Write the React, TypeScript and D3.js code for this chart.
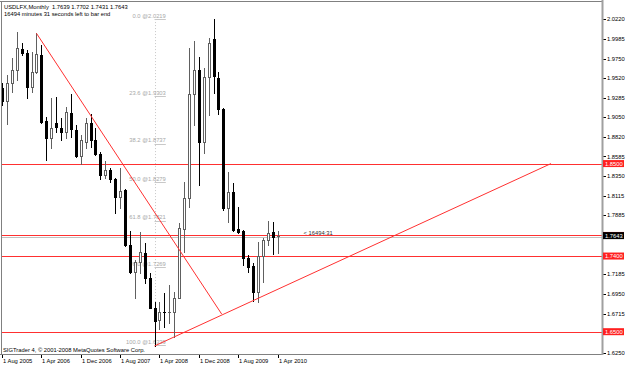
import React from 'react';
import * as d3 from 'd3';

const W = 625;
const H = 365;

const opens = [1.9395, 1.9245, 1.9455, 1.9614, 1.9863, 1.9812, 1.9415, 1.9594, 1.9792, 1.9011, 1.8808, 1.8979, 1.8927, 1.8872, 1.9098, 1.8900, 1.8594, 1.8761, 1.8979, 1.8781, 1.8610, 1.8364, 1.8424, 1.8317, 1.8107, 1.8186, 1.7531, 1.7206, 1.7333, 1.7432, 1.7135, 1.6786, 1.6639, 1.6738, 1.6730, 1.6730, 1.6905, 1.7722, 1.8095, 1.9324, 1.9614, 1.8761, 1.9534, 1.9982, 1.9522, 1.9150, 1.7968, 1.8158, 1.7722, 1.7698, 1.7381, 1.7286, 1.6968, 1.7405, 1.7591, 1.7682, 1.7639];
const highs = [1.9455, 1.9554, 1.9752, 2.0070, 1.9931, 1.9852, 1.9832, 2.0050, 1.9911, 1.9058, 1.9276, 1.9296, 1.9039, 1.9177, 1.9324, 1.8959, 1.8840, 1.9039, 1.9086, 1.8920, 1.8642, 1.8531, 1.8452, 1.8325, 1.8444, 1.8198, 1.7698, 1.7353, 1.7690, 1.7551, 1.7194, 1.6857, 1.6857, 1.6956, 1.7056, 1.6976, 1.7789, 1.8285, 1.9871, 1.9959, 1.9772, 1.9633, 1.9990, 2.0220, 1.9594, 1.9158, 1.8396, 1.8265, 1.7988, 1.7710, 1.7413, 1.7313, 1.7571, 1.7611, 1.7817, 1.7801, 1.7702];
const lows = [1.9197, 1.8967, 1.9356, 1.9495, 1.9792, 1.9284, 1.9356, 1.9574, 1.8979, 1.8543, 1.8682, 1.8880, 1.8781, 1.8801, 1.8820, 1.8582, 1.8491, 1.8690, 1.8701, 1.8602, 1.8317, 1.8325, 1.8277, 1.7908, 1.7968, 1.7524, 1.7194, 1.6897, 1.7194, 1.7075, 1.6778, 1.6330, 1.6532, 1.6560, 1.6599, 1.6441, 1.6897, 1.7452, 1.7988, 1.8959, 1.8245, 1.8622, 1.9078, 1.9336, 1.9086, 1.7948, 1.7809, 1.7698, 1.7670, 1.7293, 1.7214, 1.6860, 1.6849, 1.7095, 1.7531, 1.7420, 1.7431];
const closes = [1.9245, 1.9455, 1.9614, 1.9871, 1.9812, 1.9415, 1.9594, 1.9800, 1.8999, 1.8808, 1.8920, 1.8939, 1.8872, 1.9110, 1.8912, 1.8594, 1.8781, 1.8979, 1.8781, 1.8614, 1.8364, 1.8424, 1.8317, 1.8107, 1.8174, 1.7531, 1.7206, 1.7333, 1.7444, 1.7135, 1.6786, 1.6627, 1.6730, 1.6730, 1.6738, 1.6905, 1.7730, 1.8095, 1.9324, 1.9614, 1.8761, 1.9534, 1.9931, 1.9546, 1.9150, 1.7968, 1.8158, 1.7710, 1.7690, 1.7381, 1.7274, 1.6968, 1.7405, 1.7591, 1.7670, 1.7631, 1.7643];

const dateLabels = ['1 Aug 2005', '1 Apr 2006', '1 Dec 2006', '1 Aug 2007', '1 Apr 2008', '1 Dec 2008', '1 Aug 2009', '1 Apr 2010'];
const dateBars = [0, 8, 16, 24, 32, 40, 48, 56];
const priceTicks = [2.0220, 1.9985, 1.9750, 1.9520, 1.9285, 1.9050, 1.8820, 1.8585, 1.8350, 1.8115, 1.7885, 1.7185, 1.6950, 1.6715, 1.6250];
const redLevels = [1.8500, 1.7645, 1.7400, 1.6500];
const bidPrice = 1.7643;
const fibLevels = ['0.0', '23.6', '38.2', '50.0', '61.8', '76.0', '100.0'];
const fibPrices = [2.0219, 1.9303, 1.8737, 1.8279, 1.7821, 1.7269, 1.6339];
const fibBars = [31, 33.3];
const downTrend = [{ bar: 7, price: 2.0050 }, { bar: 44.65, price: 1.6710 }];
const upTrend = [{ bar: 31, price: 1.6330 }, { bar: 111.6, price: 1.8500 }];

const symbolText = 'USDLFX,Monthly';
const ohlcText = '1.7639 1.7702 1.7431 1.7643';
const timerText = '16494 minutes 31 seconds left to bar end';
const timerShort = '<  16494:31';
const copyright = 'SIGTrader 4, \u00a9 2001-2008 MetaQuotes Software Corp.';

const FONT = 'Liberation Sans, Arial, sans-serif';
const FS = 5.8;

export default function App() {
  const plotL = 1.5, plotR = 602, plotT = 1, plotB = 354;
  const x = d3.scaleLinear().domain([0, 56]).range([2, 277.5]);
  const y = d3.scaleLinear().domain([1.6250, 2.0220]).range([352.7, 19]);
  const fmt = d3.format('.4f');

  const candles = opens.map((o, i) => {
    const c = closes[i];
    const cx = Math.round(x(i));
    const bull = c >= o;
    const top = Math.round(y(Math.max(o, c)));
    const bot = Math.round(y(Math.min(o, c)));
    const hy = Math.round(y(highs[i]));
    const ly = Math.round(y(lows[i]));
    const col = bull ? '#606060' : '#000';
    return (
      <g key={i}>
        <line x1={cx + 0.5} x2={cx + 0.5} y1={hy} y2={ly + 1} stroke={col} strokeWidth={1} />
        {bull ? (
          bot - top >= 2 ? (
            <rect x={cx - 0.5} y={top + 0.5} width={2} height={bot - top - 1 + 1} fill="#fff" stroke={col} strokeWidth={1} />
          ) : (
            <rect x={cx - 1} y={top} width={3} height={Math.max(1, bot - top + 1)} fill={col} />
          )
        ) : (
          <rect x={cx - 1} y={top} width={3} height={Math.max(1, bot - top + 1)} fill="#000" />
        )}
      </g>
    );
  });

  const clipId = 'plotclip';

  return (
    <svg width={W} height={H} style={{ position: 'absolute', left: 0, top: 0, background: '#fff' }} fontFamily={FONT}>
      <rect x={0} y={0} width={W} height={H} fill="#fff" />
      <defs>
        <clipPath id={clipId}>
          <rect x={plotL} y={plotT} width={plotR - plotL} height={plotB - plotT} />
        </clipPath>
      </defs>

      <g clipPath={`url(#${clipId})`}>
        {/* fib vertical dotted line */}
        <line x1={Math.round(x(fibBars[0])) + 0.5} x2={Math.round(x(fibBars[0])) + 0.5} y1={y(fibPrices[0])} y2={y(fibPrices[6])} stroke="#c8c8c8" strokeDasharray="1,2" />
        {fibPrices.map((p, i) => (
          <g key={'fib' + i}>
            <line x1={x(fibBars[0])} x2={x(fibBars[1])} y1={Math.round(y(p)) + 0.5} y2={Math.round(y(p)) + 0.5} stroke="#c8c8c8" />
            <text x={x(fibBars[1])} y={y(p) - 1.3} fontSize={FS} fill="#a8a8a8" textAnchor="end">{`${fibLevels[i]} @${fmt(p)}`}</text>
          </g>
        ))}

        {/* bid line */}
        <line x1={plotL} x2={plotR} y1={Math.round(y(bidPrice)) + 1.5} y2={Math.round(y(bidPrice)) + 1.5} stroke="#c0c0c0" />
        {/* red horizontal levels */}
        {redLevels.map((p, i) => (
          <line key={'rl' + i} x1={plotL} x2={plotR} y1={Math.round(y(p)) + 0.5} y2={Math.round(y(p)) + 0.5} stroke="#ff3030" />
        ))}

        {candles}

        {/* trend lines */}
        <line x1={x(downTrend[0].bar)} y1={y(downTrend[0].price)} x2={x(downTrend[1].bar)} y2={y(downTrend[1].price)} stroke="#ff3030" strokeWidth={1} />
        <line x1={x(upTrend[0].bar)} y1={y(upTrend[0].price)} x2={x(upTrend[1].bar)} y2={y(upTrend[1].price)} stroke="#ff3030" strokeWidth={1} />

        <text x={x(56) + 26} y={y(bidPrice) - 1} fontSize={FS} fill="#303030">{timerShort}</text>
      </g>

      {/* frame */}
      <line x1={0} x2={plotR} y1={plotT + 0.5} y2={plotT + 0.5} stroke="#808080" />
      <line x1={plotL} x2={plotL} y1={plotT} y2={plotB} stroke="#808080" />
      <line x1={0} x2={plotR + 1} y1={plotB + 0.5} y2={plotB + 0.5} stroke="#808080" />
      <line x1={plotR + 0.5} x2={plotR + 0.5} y1={0} y2={plotB + 1} stroke="#a0a0a0" strokeWidth={2} />

      {/* header */}
      <text x={4} y={8.5} fontSize={FS} fill="#000">{symbolText}</text>
      <text x={52} y={8.5} fontSize={FS} fill="#000">{ohlcText}</text>
      <text x={4} y={16} fontSize={FS} fill="#000">{timerText}</text>
      <text x={3} y={351.5} fontSize={FS} fill="#000">{copyright}</text>

      {/* right axis */}
      {priceTicks.map((p, i) => (
        <g key={'pt' + i}>
          <line x1={plotR + 1.5} x2={plotR + 4} y1={Math.round(y(p)) + 0.5} y2={Math.round(y(p)) + 0.5} stroke="#000" />
          <text x={607} y={y(p) + 2.1} fontSize={FS} fill="#000">{fmt(p)}</text>
        </g>
      ))}
      {redLevels.map((p, i) => (
        <g key={'rb' + i}>
          <rect x={603} y={y(p) - 3.5} width={21} height={7} fill="#ff2020" />
          <text x={605} y={y(p) + 2.1} fontSize={FS} fill="#fff">{fmt(Math.round(p * 100) / 100)}</text>
        </g>
      ))}
      <rect x={603} y={y(bidPrice) - 3.5} width={21} height={7} fill="#000" />
      <text x={605} y={y(bidPrice) + 2.1} fontSize={FS} fill="#fff">{fmt(bidPrice)}</text>

      {/* bottom axis */}
      {dateBars.map((b, i) => (
        <g key={'dt' + i}>
          <line x1={Math.round(x(b)) + 0.5} x2={Math.round(x(b)) + 0.5} y1={plotB + 1} y2={plotB + 4} stroke="#000" />
          <text x={Math.round(x(b)) + 1} y={363} fontSize={FS} fill="#000">{dateLabels[i]}</text>
        </g>
      ))}
    </svg>
  );
}
